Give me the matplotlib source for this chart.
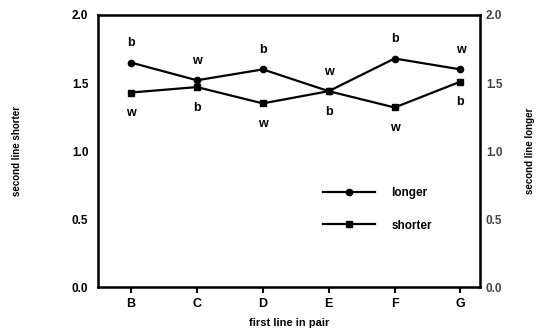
import matplotlib.pyplot as plt

categories = ['B', 'C', 'D', 'E', 'F', 'G']
longer = [1.65, 1.52, 1.60, 1.44, 1.68, 1.60]
shorter = [1.43, 1.47, 1.35, 1.44, 1.32, 1.51]
longer_tags = ['b', 'w', 'b', 'w', 'b', 'w']
shorter_tags = ['w', 'b', 'w', 'b', 'w', 'b']
yticks = [0.0, 0.5, 1.0, 1.5, 2.0]

plt.rcParams['font.family'] = ['Liberation Sans', 'DejaVu Sans']
plt.rcParams['font.weight'] = 'bold'

fig = plt.figure(figsize=(5.39, 3.33), dpi=100)
ax = fig.add_axes([0.182, 0.138, 0.709, 0.817])
x = range(len(categories))

ax.plot(x, longer, color='black', lw=1.6, marker='o', ms=4.5, label='longer')
ax.plot(x, shorter, color='black', lw=1.6, marker='s', ms=4.5, label='shorter')

for i in x:
    ax.annotate(longer_tags[i], (i, longer[i]), xytext=(0, 14), textcoords='offset points',
                ha='center', va='center', fontsize=9, fontweight='bold')
    ax.annotate(shorter_tags[i], (i, shorter[i]), xytext=(0, -15), textcoords='offset points',
                ha='center', va='center', fontsize=9, fontweight='bold')

ax.set_xlim(-0.5, 5.3)
ax.set_ylim(0, 2.0)
ax.set_xticks(list(x))
ax.set_xticklabels(categories, fontsize=9, fontweight='bold')
ax.set_yticks(yticks)
ax.set_yticklabels([f'{v:.1f}' for v in yticks], fontsize=8.5, fontweight='bold')
ax.tick_params(axis='x', direction='out', length=4, width=1.5, pad=4)
ax.tick_params(axis='y', length=0, pad=7)
for s in ax.spines.values():
    s.set_linewidth(1.8)

ax2 = ax.twinx()
ax2.set_ylim(0, 2.0)
ax2.set_yticks(yticks)
ax2.set_yticklabels([f'{v:.1f}' for v in yticks], fontsize=8.5, fontweight='bold', color='#444444')
ax2.tick_params(axis='y', length=0, pad=4)
ax2.set_ylabel('second line longer', fontsize=7, fontweight='bold', labelpad=16)

ax.set_ylabel('second line shorter', fontsize=7, fontweight='bold', labelpad=36)
ax.set_xlabel('first line in pair', fontsize=8, fontweight='bold', labelpad=6)

ax.legend(loc='upper left', bbox_to_anchor=(0.56, 0.405), frameon=False, fontsize=8.5,
          handlelength=4.4, labelspacing=1.7, handletextpad=1.4)

fig.savefig('out.png', dpi=100, facecolor='white')
